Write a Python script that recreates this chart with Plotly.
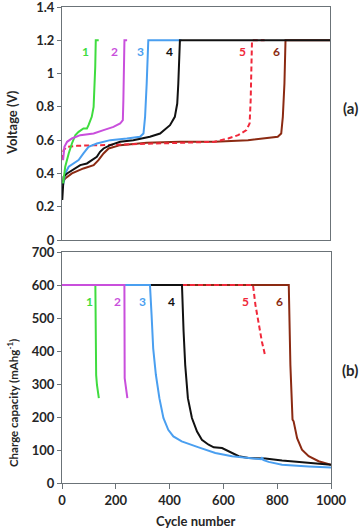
import plotly.graph_objects as go

# top panel: voltage vs cycle number
v1_x = [4, 12, 25, 37, 50, 62, 80, 93, 99, 111, 118, 121, 124, 126, 137]
v1_y = [0.34, 0.44, 0.52, 0.58, 0.63, 0.65, 0.67, 0.67, 0.69, 0.74, 0.80, 0.90, 1.04, 1.20, 1.20]
v2_x = [4, 9, 19, 37, 68, 118, 155, 192, 217, 227, 229, 232, 233, 243]
v2_y = [0.48, 0.56, 0.59, 0.61, 0.63, 0.64, 0.66, 0.68, 0.70, 0.72, 0.84, 1.04, 1.20, 1.20]
v3_x = [4, 12, 25, 43, 62, 80, 99, 130, 180, 242, 291, 304, 310, 316, 320, 322, 446]
v3_y = [0.33, 0.40, 0.44, 0.46, 0.48, 0.52, 0.56, 0.58, 0.60, 0.61, 0.62, 0.64, 0.74, 0.94, 1.12, 1.20, 1.20]
v4_x = [1, 4, 6, 19, 37, 68, 93, 111, 130, 142, 155, 180, 217, 266, 328, 366, 403, 421, 430, 434, 437, 440, 1000]
v4_y = [0.24, 0.32, 0.38, 0.40, 0.42, 0.45, 0.46, 0.48, 0.50, 0.53, 0.55, 0.57, 0.59, 0.60, 0.62, 0.64, 0.69, 0.74, 0.82, 0.94, 1.08, 1.20, 1.20]
v5_x = [1, 6, 19, 56, 142, 266, 440, 569, 620, 657, 688, 700, 704, 706, 709, 756]
v5_y = [0.48, 0.54, 0.56, 0.566, 0.57, 0.576, 0.584, 0.59, 0.61, 0.63, 0.66, 0.70, 0.84, 1.04, 1.20, 1.20]
v6_x = [4, 12, 37, 80, 118, 136, 155, 174, 217, 316, 440, 569, 694, 805, 818, 824, 830, 834, 1000]
v6_y = [0.35, 0.37, 0.40, 0.43, 0.45, 0.48, 0.52, 0.55, 0.57, 0.584, 0.59, 0.59, 0.60, 0.62, 0.64, 0.74, 0.94, 1.20, 1.20]

# bottom panel: charge capacity vs cycle number
c1_x = [0, 124, 127, 130, 137]
c1_y = [600, 600, 327, 297, 257]
c2_x = [0, 232, 233, 238, 243]
c2_y = [600, 600, 318, 287, 257]
c3_x = [0, 327, 333, 339, 349, 362, 377, 395, 414, 445, 508, 570, 632, 694, 740, 744, 748, 768, 818, 917, 1000]
c3_y = [600, 600, 509, 408, 328, 257, 197, 161, 141, 126, 108, 91, 81, 76, 72, 78, 70, 64, 55, 50, 47]
c4_x = [0, 446, 452, 458, 468, 483, 502, 520, 545, 564, 595, 620, 657, 694, 756, 818, 917, 1000]
c4_y = [600, 600, 459, 358, 257, 197, 156, 131, 116, 108, 106, 96, 81, 76, 74, 68, 60, 55]
c5_x = [0, 710, 719, 731, 743, 756]
c5_y = [600, 600, 540, 479, 429, 383]
c6_x = [0, 843, 849, 855, 857, 861, 874, 892, 917, 954, 1000]
c6_y = [600, 600, 358, 200, 192, 187, 136, 101, 81, 66, 55]

names = ["1", "2", "3", "4", "5", "6"]
colors = ["#3fdc3f", "#c94fdc", "#4a9ff0", "#111111", "#f0283a", "#8b2a12"]
label_x_top = [89, 197, 294, 401, 675, 799]
label_x_bot = [101, 205, 300, 408, 682, 808]

top = [(v1_x, v1_y), (v2_x, v2_y), (v3_x, v3_y), (v4_x, v4_y), (v5_x, v5_y), (v6_x, v6_y)]
bot = [(c1_x, c1_y), (c2_x, c2_y), (c3_x, c3_y), (c4_x, c4_y), (c5_x, c5_y), (c6_x, c6_y)]

W, H = 364, 530

def px(x):
    return x / W

def py(y):
    return 1 - y / H

fig = go.Figure()
order_top = [5, 4, 2, 3, 0, 1]
order_bot = [5, 4, 3, 2, 0, 1]
for i in order_top:
    fig.add_trace(go.Scatter(x=top[i][0], y=top[i][1], mode="lines", xaxis="x", yaxis="y",
                             line=dict(color=colors[i], width=2, dash="5px,3px" if i == 4 else "solid")))
for i in order_bot:
    fig.add_trace(go.Scatter(x=bot[i][0], y=bot[i][1], mode="lines", xaxis="x2", yaxis="y2",
                             line=dict(color=colors[i], width=2, dash="5px,3px" if i == 4 else "solid")))

tickfont = dict(family="Lato", size=13, color="#262626", weight="bold")
axline = dict(showline=True, mirror=True, linecolor="#6b7378", linewidth=1, showgrid=False, zeroline=False,
              ticklabeloverflow="allow")

fig.update_layout(
    width=W, height=H, margin=dict(l=0, r=0, t=0, b=0, autoexpand=False),
    paper_bgcolor="white", plot_bgcolor="white", showlegend=False,
    xaxis=dict(domain=[px(62), px(330)], range=[0, 1000], anchor="y", showticklabels=False, **axline),
    yaxis=dict(domain=[py(240), py(7)], range=[0, 1.4001], tickvals=[0, 0.2, 0.4, 0.6, 0.8, 1, 1.2, 1.4],
               ticktext=["0", "0.2", "0.4", "0.6", "0.8", "1", "1.2", "1.4"], anchor="x",
               ticks="outside", ticklen=4, tickcolor="#6b7378", tickfont=tickfont, **axline),
    xaxis2=dict(domain=[px(62), px(331)], range=[0, 1000], dtick=200, anchor="y2",
                ticks="outside", ticklen=5, tickcolor="#6b7378", tickfont=tickfont, **axline),
    yaxis2=dict(domain=[py(483), py(252)], range=[0, 700], dtick=100, anchor="x2",
                ticks="outside", ticklen=4, tickcolor="#6b7378", tickfont=tickfont, **axline),
)

for i in range(6):
    fig.add_annotation(x=label_x_top[i], y=1.13, xref="x", yref="y", text=names[i], showarrow=False,
                       font=dict(family="Lato", size=12, color=colors[i], weight="bold"))
    fig.add_annotation(x=label_x_bot[i], y=551, xref="x2", yref="y2", text=names[i], showarrow=False,
                       font=dict(family="Lato", size=12, color=colors[i], weight="bold"))

title_font = dict(family="Lato", size=13, color="#262626", weight="bold")
texts = [
    ("Voltage (V)", 12, 123, -90, title_font),
    ("Charge capacity (mAhg<sup>-1</sup>)", 12, 403, -90, dict(family="Lato", size=11.5, color="#262626", weight="bold")),
    ("Cycle number", 196, 521, 0, title_font),
    ("(a)", 350, 108, 0, dict(family="Lato", size=15, color="#262626", weight="bold")),
    ("(b)", 350, 370, 0, dict(family="Lato", size=15, color="#262626", weight="bold")),
]
for t, x, y, ang, f in texts:
    fig.add_annotation(x=px(x), y=py(y), xref="paper", yref="paper", text=t, textangle=ang,
                       xanchor="center", yanchor="middle", showarrow=False, font=f)

# drop the default 8px body margin so the figure fills the window exactly
fig.write_html("out.html", config={"displayModeBar": False},
               post_script="document.body.style.margin='0px';")
